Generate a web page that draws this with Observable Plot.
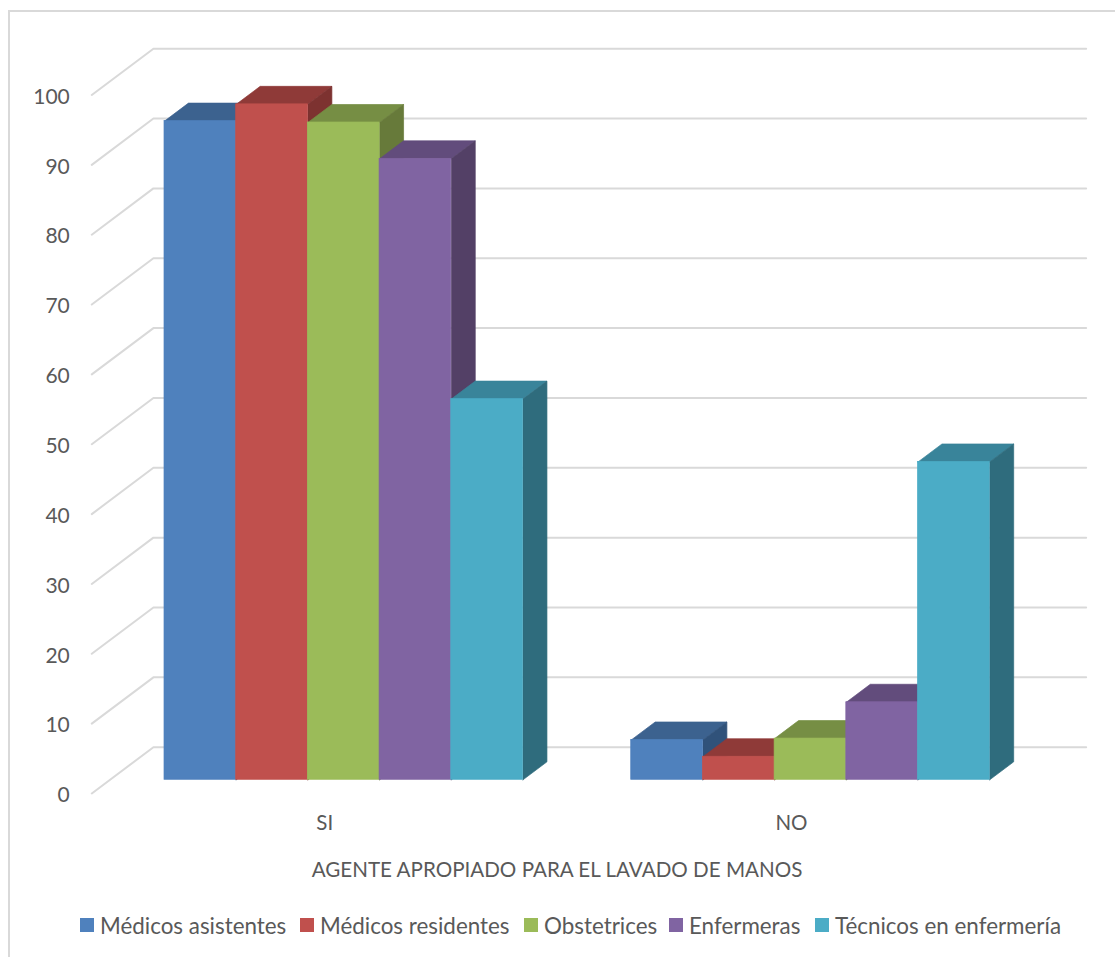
<!DOCTYPE html>
<html lang="es">
<head>
<meta charset="utf-8">
<title>Agente apropiado para el lavado de manos</title>
<script src="https://cdn.jsdelivr.net/npm/d3@7"></script>
<script src="https://cdn.jsdelivr.net/npm/@observablehq/plot@0.6"></script>
<style>
  html, body { margin: 0; padding: 0; background: #fff; }
  #page { position: relative; width: 1115px; height: 957px; overflow: hidden; font-family: Lato, "Open Sans", sans-serif; color: #595959; }
  #frame { position: absolute; left: 8px; top: 10px; right: 0; bottom: 0; border-left: 2px solid #d9d9d9; border-top: 2px solid #d9d9d9; pointer-events: none; }
  #legend { position: relative; height: 52px; }
  #legend .entry { position: absolute; top: 0; display: flex; align-items: center; height: 40px; font-size: 22.4px; white-space: nowrap; }
  #legend .swatch { width: 14px; height: 14px; margin-right: 6px; }
</style>
</head>
<body>
<div id="page">
  <div id="chart"></div>
  <div id="legend"></div>
  <div id="frame"></div>
</div>
<script>
const categories = ["SI", "NO"];
const professions = ["Médicos asistentes", "Médicos residentes", "Obstetrices", "Enfermeras", "Técnicos en enfermería"];
const siValues = [94.3, 96.7, 94.1, 88.9, 54.5];
const noValues = [5.7, 3.3, 5.9, 11.1, 45.5];
const yTicks = [0, 10, 20, 30, 40, 50, 60, 70, 80, 90, 100];
const axisTitle = "AGENTE APROPIADO PARA EL LAVADO DE MANOS";

const frontColors = ["#4f81bd", "#c0504d", "#9bbb59", "#8064a2", "#4bacc6"];
const topColors = ["#3c628f", "#8f3a38", "#768e44", "#624c7c", "#39849a"];
const sideColors = ["#30527a", "#7d3230", "#677a3a", "#534066", "#2f6c7d"];

// Oblique projection: one unit of depth moves a point right and up, in scale units.
const depthX = 0.3345;
const depthY = 2.577;
const floorFront = -0.76;
const floorBack = 1.81;
const wallLeft = -0.76;
const wallRight = 12.25;
const groupStart = [0, 6.51];

const project = (slot, value, depth) => ({x: slot + depth * depthX, y: value + depth * depthY});

// Walls: each gridline runs along the side wall, then across the back wall.
const gridRows = yTicks.flatMap((tick) => [
  {tick, ...project(wallLeft, tick, floorFront)},
  {tick, ...project(wallLeft, tick, floorBack)},
  {tick, ...project(wallRight, tick, floorBack)}
]);
const tickLabels = yTicks.map((tick) => ({tick, ...project(wallLeft, tick, floorFront)}));

// One record per column, painted left to right so nearer faces cover the neighbours.
const columns = categories.flatMap((category, c) =>
  (c === 0 ? siValues : noValues).map((value, i) => ({
    category, value, i, left: groupStart[c] + i, right: groupStart[c] + i + 1
  }))
);

// A hairline stroke in the face colour closes the antialiasing seams between faces.
const seam = 0.7;
const columnMarks = columns.flatMap((d) => {
  const topFace = [
    project(d.left, d.value, 0), project(d.right, d.value, 0),
    project(d.right, d.value, 1), project(d.left, d.value, 1),
    project(d.left, d.value, 0)
  ];
  const sideFace = [
    project(d.right, 0, 0), project(d.right, d.value, 0),
    project(d.right, d.value, 1), project(d.right, 0, 1),
    project(d.right, 0, 0)
  ];
  return [
    Plot.line(topFace, {x: "x", y: "y", fill: topColors[d.i], stroke: topColors[d.i], strokeWidth: seam}),
    Plot.line(sideFace, {x: "x", y: "y", fill: sideColors[d.i], stroke: sideColors[d.i], strokeWidth: seam}),
    Plot.rect([d], {x1: "left", x2: "right", y1: 0, y2: "value", fill: frontColors[d.i], stroke: frontColors[d.i], strokeWidth: seam})
  ];
});

const categoryLabels = categories.map((label, c) => ({label, x: groupStart[c] + 2.5}));

const textFont = "Lato, 'Open Sans', sans-serif";
const chart = Plot.plot({
  width: 1115,
  height: 905,
  margin: 0,
  x: {type: "linear", domain: [0, 11.51], range: [164, 989.2], axis: null},
  y: {type: "linear", domain: [0, 100], range: [779.3, 80.8], axis: null},
  style: {background: "#fff", fontFamily: textFont, overflow: "visible"},
  marks: [
    Plot.line(gridRows, {x: "x", y: "y", z: "tick", stroke: "#d9d9d9", strokeWidth: 2}),
    Plot.text(tickLabels, {x: "x", y: "y", text: (d) => String(d.tick), textAnchor: "end", dx: -22, dy: 2, fontSize: 21, fill: "#595959"}),
    ...columnMarks,
    Plot.text(categoryLabels, {x: "x", y: () => 0, text: "label", dx: -19, dy: 44, fontSize: 20.5, fill: "#595959"}),
    Plot.text([axisTitle], {x: () => 5.475, y: () => 0, text: (d) => d, dy: 91, fontSize: 20.6, fill: "#595959"})
  ]
});
document.getElementById("chart").appendChild(chart);

// Legend row under the plot.
const legendOffsets = [80, 300, 524, 669, 815];
const legend = document.getElementById("legend");
professions.forEach((name, i) => {
  const entry = document.createElement("div");
  entry.className = "entry";
  entry.style.left = legendOffsets[i] + "px";
  const swatch = document.createElement("span");
  swatch.className = "swatch";
  swatch.style.background = frontColors[i];
  const label = document.createElement("span");
  label.textContent = name;
  entry.append(swatch, label);
  legend.appendChild(entry);
});
</script>
</body>
</html>
